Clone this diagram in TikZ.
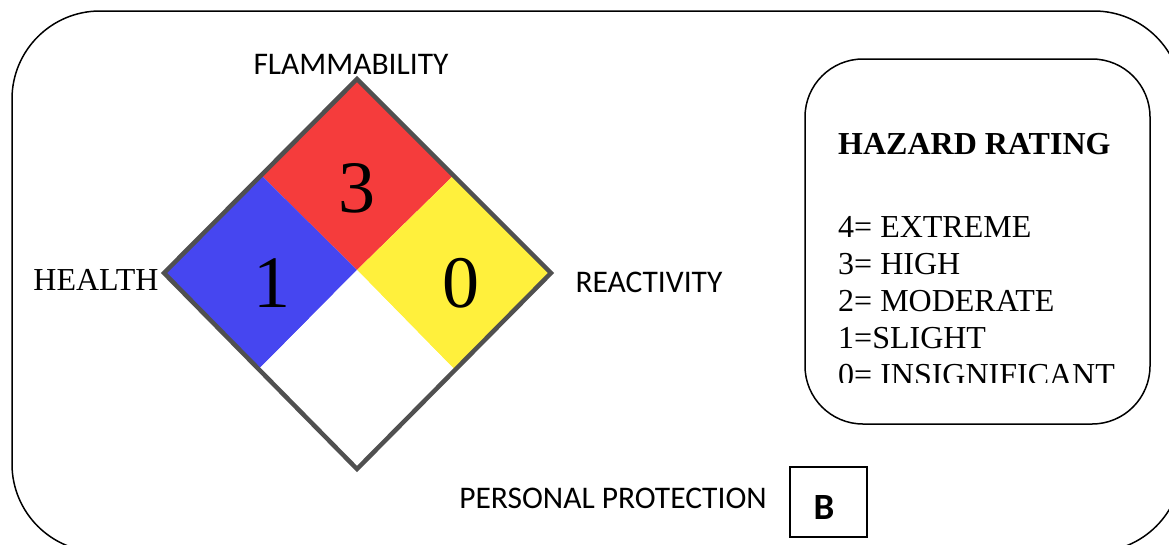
\documentclass[tikz,border=0pt]{standalone}
\usepackage{fontspec}
\setmainfont{Liberation Serif}
\newfontfamily\carlito{Carlito}
\definecolor{nfpared}{RGB}{245,60,60}
\definecolor{nfpablue}{RGB}{70,70,240}
\definecolor{nfpayellow}{RGB}{255,240,60}
\definecolor{nfpaedge}{RGB}{80,80,80}
\begin{document}
\begin{tikzpicture}[x=1pt,y=-1pt,
  lbl/.style={font=\carlito\fontsize{31.5}{36}\selectfont, anchor=base, inner sep=0pt},
  num/.style={font=\fontsize{74}{80}\selectfont, anchor=base, inner sep=0pt},
  ser/.style={font=\fontsize{32}{37}\selectfont, anchor=base west, inner sep=0pt},
  frame/.style={draw=black, line width=1.5pt},
  edge/.style={draw=nfpaedge, line width=4.5pt, line join=miter}]
\useasboundingbox (0,0) rectangle (1169,544);
% outer frame
\draw[frame, rounded corners=88pt] (12,11) rectangle (1182,552);
% diamond coordinates
\coordinate (T) at (357,79);
\coordinate (L) at (164,273);
\coordinate (R) at (551,273);
\coordinate (Bt) at (357,469);
\coordinate (C) at (357,270);
\coordinate (mTL) at (261,175);
\coordinate (mTR) at (454,175);
\coordinate (mBL) at (259,369);
\coordinate (mBR) at (454,369);
\fill[nfpared] (T) -- (mTR) -- (C) -- (mTL) -- cycle;
\fill[nfpablue] (mTL) -- (C) -- (mBL) -- (L) -- cycle;
\fill[nfpayellow] (mTR) -- (R) -- (mBR) -- (C) -- cycle;
\fill[white] (C) -- (mBR) -- (Bt) -- (mBL) -- cycle;
\draw[edge] (T) -- (R) -- (Bt) -- (L) -- cycle;
% numbers
\node[num] (nflam) at (357,212) {3};
\node[num] (nhealth) at (272,307) {1};
\node[num] (nreact) at (461,307) {0};
% labels
\node[lbl] (flam) at (351,74) {FLAMMABILITY};
\node[font=\fontsize{32}{37}\selectfont, anchor=base, inner sep=0pt] (health) at (96,290) {HEALTH};
\node[lbl] (react) at (649,292) {REACTIVITY};
\node[lbl] (pp) at (613,508) {PERSONAL PROTECTION};
% B box
\draw[line width=1.4pt] (790,467) rectangle (867,537);
\node[font=\carlito\bfseries\fontsize{37}{42}\selectfont, anchor=base, inner sep=0pt] (bcode) at (824,519) {B};
% hazard rating box
\draw[frame, rounded corners=58pt] (805,59) rectangle (1150,424);
\node[ser, font=\bfseries\fontsize{32}{37}\selectfont] (hr) at (838,154) {HAZARD RATING};
\node[ser] (h4) at (838,237) {4= EXTREME};
\node[ser] (h3) at (838,274) {3= HIGH};
\node[ser] (h2) at (838,311) {2= MODERATE};
\node[ser] (h1) at (838,348) {1=SLIGHT};
\begin{scope}
\clip (806,340) rectangle (1149,382);
\node[ser] (h0) at (838,385) {0= INSIGNIFICANT};
\end{scope}
\end{tikzpicture}
\end{document}
